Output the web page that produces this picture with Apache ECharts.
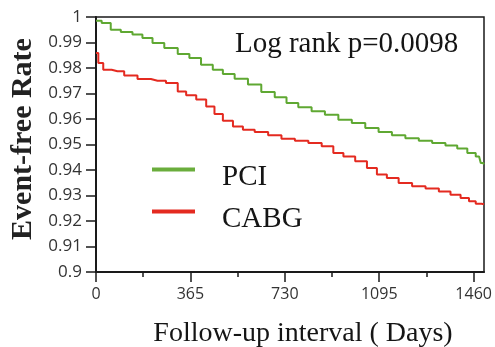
<!DOCTYPE html>
<html>
<head>
<meta charset="utf-8">
<script src="https://cdn.jsdelivr.net/npm/echarts@6/dist/echarts.min.js"></script>
<style>
  html, body { margin: 0; padding: 0; background: #fff; }
  #chart { width: 495px; height: 347px; }
</style>
</head>
<body>
<div id="chart"></div>
<script>
// follow-up days / event-free rate
const pciDays = [0, 44, 70, 122, 160, 199, 238, 290, 342, 380, 432, 471, 510, 562, 613, 665, 717, 756, 808, 859, 911, 963, 1015, 1067, 1118, 1170, 1222, 1274, 1325, 1377, 1416, 1455, 1481, 1494, 1500]
const pciRate = [0.9985, 0.9976, 0.995, 0.9941, 0.9931, 0.9918, 0.9898, 0.9878, 0.9855, 0.9839, 0.9813, 0.9793, 0.9776, 0.9758, 0.9735, 0.9706, 0.9685, 0.9663, 0.9646, 0.963, 0.9617, 0.9597, 0.9584, 0.9565, 0.9549, 0.9536, 0.9525, 0.9515, 0.9506, 0.9496, 0.9484, 0.9467, 0.9453, 0.9427, 0.9422]
const cabgDays = [0, 18, 38, 83, 135, 186, 238, 303, 329, 368, 407, 445, 471, 510, 549, 587, 640, 691, 743, 795, 847, 898, 937, 976, 1028, 1067, 1105, 1144, 1196, 1248, 1300, 1351, 1390, 1429, 1455, 1481, 1500]
const cabgRate = [0.9859, 0.982, 0.9793, 0.9787, 0.9771, 0.9757, 0.975, 0.9741, 0.9708, 0.9693, 0.9676, 0.9649, 0.962, 0.9593, 0.9571, 0.9558, 0.9549, 0.9536, 0.9523, 0.9515, 0.9506, 0.9493, 0.9467, 0.9453, 0.9434, 0.9408, 0.9382, 0.9369, 0.9349, 0.9336, 0.9327, 0.9316, 0.9303, 0.929, 0.9277, 0.9268, 0.9266]
const xTicks = [0, 365, 730, 1095, 1460]
const xMinorTicks = [182.5, 547.5, 912.5, 1277.5]
const seriesNames = ["PCI", "CABG"]
const pValueText = "Log rank p=0.0098"

const serif = "'Liberation Serif', 'Times New Roman', serif"
const sans = "'Open Sans', sans-serif"

const chart = echarts.init(document.getElementById("chart"))

let pairs = (xs, ys) => xs.map((x, i) => [x, ys[i]])

let option = {
  animation: false,
  grid: {
    left: 96,
    right: 11,
    top: 17,
    bottom: 75,
    show: true,
    borderColor: "#1a1a1a",
    borderWidth: 1.5,
  },
  legend: {
    orient: "vertical",
    left: 147,
    top: 158,
    itemWidth: 43,
    itemHeight: 20,
    itemGap: 13,
    // bar in the upper part of the icon box, so it sits above the text middle
    icon: "path://M0,0L43,0L43,4L0,4Z M0,20L43,20",
    textStyle: {
      fontFamily: serif,
      fontSize: 29,
      color: "#151515",
      padding: [0, 0, 0, 22],
    },
    data: seriesNames,
  },
  xAxis: [
    {
      type: "value",
      min: 0,
      max: 1500,
      interval: 365,
      splitLine: { show: false },
      axisLine: { lineStyle: { color: "#1a1a1a", width: 2 } },
      axisTick: { customValues: xTicks, length: 10, lineStyle: { color: "#1a1a1a", width: 1.5 } },
      axisLabel: {
        customValues: xTicks,
        fontFamily: sans,
        fontSize: 16,
        color: "#333",
        margin: 14,
        formatter: (v) => String(v),
      },
    },
    {
      // minor ticks only
      type: "value",
      min: 0,
      max: 1500,
      position: "bottom",
      splitLine: { show: false },
      axisLine: { show: false },
      axisLabel: { show: false },
      axisTick: { customValues: xMinorTicks, length: 5, lineStyle: { color: "#1a1a1a", width: 1.5 } },
    },
  ],
  yAxis: {
    type: "value",
    min: 0.9,
    max: 1,
    interval: 0.01,
    splitLine: { show: false },
    axisLine: { show: true, lineStyle: { color: "#1a1a1a", width: 2 } },
    axisTick: { show: true, length: 10, lineStyle: { color: "#1a1a1a", width: 1.5 } },
    axisLabel: {
      fontFamily: sans,
      fontSize: 17,
      color: "#333",
      margin: 14,
      formatter: (v) => String(+v.toFixed(2)),
    },
  },
  graphic: [
    {
      type: "text",
      left: 235,
      top: 30,
      style: { text: pValueText, font: "29px " + serif, fill: "#151515" },
    },
    {
      type: "text",
      x: 23,
      y: 139,
      rotation: Math.PI / 2,
      style: {
        text: "Event-free Rate",
        font: "bold 30px " + serif,
        fill: "#222",
        align: "center",
        verticalAlign: "middle",
      },
    },
    {
      type: "text",
      x: 303,
      y: 334,
      style: {
        text: "Follow-up interval ( Days)",
        font: "28px " + serif,
        fill: "#151515",
        align: "center",
        verticalAlign: "middle",
      },
    },
  ],
  series: [
    {
      name: seriesNames[0],
      type: "line",
      step: "middle",
      showSymbol: false,
      lineStyle: { color: "#5fa832", width: 2 },
      itemStyle: { color: "#6aad3c" },
      data: pairs(pciDays, pciRate),
      z: 3,
    },
    {
      name: seriesNames[1],
      type: "line",
      step: "middle",
      showSymbol: false,
      lineStyle: { color: "#e42a20", width: 2 },
      itemStyle: { color: "#e42a20" },
      data: pairs(cabgDays, cabgRate),
      z: 2,
    },
  ],
}

chart.setOption(option)
</script>
</body>
</html>
